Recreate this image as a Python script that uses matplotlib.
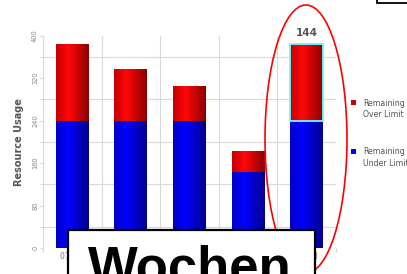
import matplotlib
matplotlib.use("Agg")
import matplotlib.pyplot as plt
import numpy as np
from matplotlib.colors import LinearSegmentedColormap
from matplotlib.patches import Ellipse, Rectangle

# ---- data ----
categories = ["07 Jun", "14 Jun", "21 Jun", "28 Jun", "05 Jul"]
under_limit = [240, 240, 240, 144, 240]
over_limit = [144, 97, 65, 38, 144]
y_ticks = [0, 80, 160, 240, 320, 400]
highlight_index = 4
highlight_label = "144"
legend_labels = ["Remaining\nOver Limit", "Remaining\nUnder Limit"]

W, H = 407, 274
fig = plt.figure(figsize=(W / 100, H / 100), dpi=100)
fig.patch.set_facecolor("white")
ax = fig.add_axes([43 / W, 1 - 248 / H, (336 - 43) / W, (248 - 35.7) / H])

x = np.arange(len(categories))
bw = 0.56
grid_c = "#d9d9d9"

red_cmap = LinearSegmentedColormap.from_list("r", [(0, "#c40000"), (0.38, "#ff0808"), (1, "#8c0000")])
blue_cmap = LinearSegmentedColormap.from_list("b", [(0, "#0000c4"), (0.38, "#0000ff"), (1, "#00008c")])

bars_b = ax.bar(x, under_limit, bw, color="#0000ff", zorder=2, linewidth=0)
bars_r = ax.bar(x, over_limit, bw, bottom=under_limit, color="#ff0000", zorder=2, linewidth=0)

grad = np.linspace(0, 1, 256).reshape(1, -1)
for bars, cmap in ((bars_b, blue_cmap), (bars_r, red_cmap)):
    for r in bars:
        x0, y0, w, h = r.get_x(), r.get_y(), r.get_width(), r.get_height()
        im = ax.imshow(grad, cmap=cmap, aspect="auto", extent=(x0, x0 + w, y0, y0 + h),
                       zorder=2.5, interpolation="bicubic")
        im.set_clip_path(r)

# highlight border
hr = bars_r[highlight_index]
ax.add_patch(Rectangle((hr.get_x(), hr.get_y()), hr.get_width(), hr.get_height(),
                       fill=False, edgecolor="#66ffff", linewidth=1.3, zorder=3))
ax.text(x[highlight_index], under_limit[highlight_index] + over_limit[highlight_index] + 21,
        highlight_label, ha="center", va="center", fontsize=7.5, fontweight="bold",
        color="#555555", zorder=4,
        bbox=dict(facecolor="white", edgecolor="none", pad=0.6))

ax.set_xlim(-0.5, len(categories) - 0.5)
ax.set_ylim(0, 400)
ax.set_yticks(y_ticks)
ax.set_yticks(np.arange(0, 401, 40), minor=True)
ax.set_xticks(x)
ax.set_xticklabels(categories)
ax.set_xticks(np.arange(-0.5, len(categories), 1.0), minor=True)
ax.set_yticklabels([str(v) for v in y_ticks], rotation=90, va="center")

ax.grid(True, which="minor", color=grid_c, linewidth=0.8, zorder=0)
ax.grid(False, which="major")
ax.set_axisbelow(True)
for s in ax.spines.values():
    s.set_visible(False)
ax.spines["left"].set_visible(True)
ax.spines["left"].set_color(grid_c)
ax.spines["left"].set_linewidth(0.8)

ax.tick_params(axis="y", which="both", length=2.5, color=grid_c, width=0.8, pad=1,
               labelsize=4.8, labelcolor="#888888")
ax.tick_params(axis="x", which="major", length=0, pad=3, labelsize=5.5, labelcolor="#777777")
ax.tick_params(axis="x", which="minor", length=3, color=grid_c, width=0.8)

ax.set_ylabel("Resource Usage", fontsize=7, fontweight="bold", color="#555555", labelpad=6)

# legend (custom)
leg_colors = ["#cc0000", "#0000ff"]
leg_y = [102.5, 151.5]
for c, lbl, yy in zip(leg_colors, legend_labels, leg_y):
    fig.patches.append(Rectangle((351 / W, 1 - (yy + 2.5) / H), 5 / W, 5 / H,
                                 transform=fig.transFigure, facecolor=c, edgecolor="none"))
    fig.text(363 / W, 1 - (yy - 4) / H, lbl, fontsize=5.6, color="#555555",
             va="top", ha="left", linespacing=1.35)

# red ellipse annotation
fig.patches.append(Ellipse((306 / W, 1 - 139 / H), 82 / W, 268 / H, transform=fig.transFigure,
                           fill=False, edgecolor="#ff0000", linewidth=1.2, zorder=10))

# "Wochen" box
fig.patches.append(Rectangle((68 / W, 1 - 300 / H), (315 - 68) / W, 70 / H, transform=fig.transFigure,
                             facecolor="white", edgecolor="black", linewidth=1.6, zorder=11,
                             clip_on=False))
fig.text(190 / W, 1 - 284 / H, "Wochen", fontsize=38, fontweight="bold", color="black",
         family="Liberation Sans", ha="center", va="baseline", zorder=12)

# top-right box
fig.patches.append(Rectangle((377 / W, 1 - 3 / H), 60 / W, 20 / H, transform=fig.transFigure,
                             facecolor="white", edgecolor="black", linewidth=1.3, zorder=11,
                             clip_on=False))

fig.savefig("out.png", dpi=100)
